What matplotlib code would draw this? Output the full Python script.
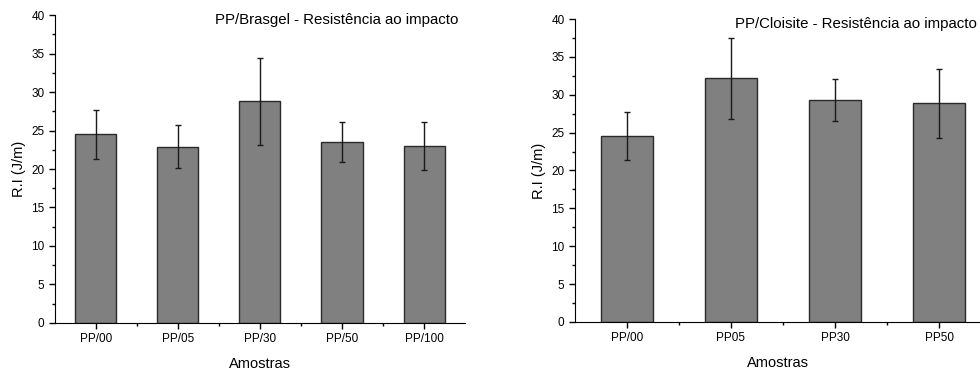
import matplotlib
matplotlib.use("Agg")
import matplotlib.pyplot as plt
import numpy as np
from matplotlib.ticker import MultipleLocator

plt.rcParams['font.family'] = ['Liberation Sans', 'DejaVu Sans']

# left panel: PP/Brasgel
brasgel_labels = ["PP/00", "PP/05", "PP/30", "PP/50", "PP/100"]
brasgel_vals = [24.5, 22.9, 28.8, 23.55, 22.95]
brasgel_err = [3.2, 2.8, 5.65, 2.6, 3.1]

# right panel: PP/Cloisite
cloisite_labels = ["PP/00", "PP05", "PP30", "PP50"]
cloisite_vals = [24.55, 32.15, 29.3, 28.85]
cloisite_err = [3.2, 5.3, 2.8, 4.5]


def draw(ax, labels, vals, err, title, xmax, tx):
    x = np.arange(len(labels))
    ax.bar(x, vals, width=0.5, color="#808080", edgecolor="#2a2a2a", linewidth=1.0)
    ax.errorbar(x, vals, yerr=err, fmt="none", ecolor="#1a1a1a", elinewidth=1.0,
                capsize=2.3, capthick=1.0)
    ax.set_xlim(-0.5, xmax)
    ax.set_ylim(0, 40)
    ax.set_xticks(x)
    ax.set_xticklabels(labels)
    ax.set_xticks(x[:-1] + 0.5, minor=True)
    ax.yaxis.set_major_locator(MultipleLocator(5))
    ax.yaxis.set_minor_locator(MultipleLocator(2.5))
    ax.tick_params(which="both", direction="out", labelsize=8.5, width=1)
    ax.tick_params(which="major", length=4)
    ax.tick_params(which="minor", length=2.5)
    for s in ["top", "right"]:
        ax.spines[s].set_visible(False)
    ax.set_ylabel("R.I (J/m)", fontsize=10.5)
    ax.set_xlabel("Amostras", fontsize=10.5, labelpad=8)
    ax.text(tx, 1.005, title, transform=ax.transAxes, ha="right", va="top", fontsize=10.8)


fig = plt.figure(figsize=(9.8, 3.69), dpi=100)
ax1 = fig.add_axes([0.0561, 0.1247, 0.4184, 0.8346])
ax2 = fig.add_axes([0.5867, 0.1274, 0.4133, 0.8211])

draw(ax1, brasgel_labels, brasgel_vals, brasgel_err, "PP/Brasgel - Resistência ao impacto", 4.5, 0.985)
draw(ax2, cloisite_labels, cloisite_vals, cloisite_err, "PP/Cloisite - Resistência ao impacto", 3.394, 0.993)

fig.savefig("out.png", dpi=100)
